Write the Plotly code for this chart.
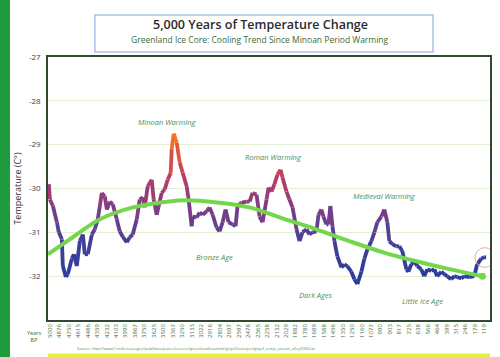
import plotly.graph_objects as go
from plotly.colors import sample_colorscale

# ---------------- data ----------------
tick_labels = ["5000", "4876", "4750", "4615", "4486", "4359", "4232", "4103", "3990", "3867",
               "3750", "3625", "3500", "3367", "3250", "3133", "3022", "2916", "2804", "2697",
               "2597", "2478", "2365", "2258", "2132", "2029", "1882", "1780", "1689", "1588",
               "1456", "1350", "1250", "1160", "1077", "990", "903", "817", "725", "638",
               "566", "464", "399", "315", "246", "179", "119"]

# position along the category axis (in tick-label units) and temperature
temp_pos = [-0.11, 0.0, 0.32, 0.74, 0.95, 1.27, 1.37, 1.69, 1.90, 2.33, 2.54, 2.85, 3.17, 3.49,
            3.70, 4.02, 4.44, 4.76, 5.07, 5.29, 5.50, 5.81, 6.03, 6.34, 6.66, 7.08, 7.40, 7.72,
            8.14, 8.46, 8.77, 9.20, 9.51, 9.83, 10.04, 10.36, 10.78, 10.99, 11.31, 11.52, 11.84,
            12.16, 12.47, 12.79, 12.90, 13.11, 13.42, 13.74, 14.06, 14.48, 14.69, 15.01, 15.12,
            15.54, 15.86, 16.17, 16.60, 16.91, 17.23, 17.65, 17.97, 18.29, 18.60, 18.92, 19.34,
            19.66, 19.87, 20.30, 20.82, 21.14, 21.46, 21.88, 22.20, 22.52, 22.94, 23.15, 23.47,
            23.78, 24.10, 24.42, 24.63, 25.05, 25.37, 25.69, 26.11, 26.43, 26.74, 27.17, 27.48,
            27.80, 28.22, 28.44, 28.75, 28.96, 29.28, 29.49, 29.70, 29.92, 30.13, 30.44, 30.87,
            31.18, 31.50, 31.92, 32.24, 32.56, 32.98, 33.30, 33.62, 34.04, 34.36, 34.67, 35.10,
            35.41, 35.73, 35.94, 36.26, 36.68, 37.00, 37.32, 37.74, 37.95, 38.27, 38.58, 38.90,
            39.32, 39.64, 39.96, 40.38, 40.70, 41.01, 41.44, 41.75, 42.07, 42.49, 42.81, 43.13,
            43.55, 43.87, 44.40, 44.93, 45.24, 45.67, 45.98, 46.19]
temperature = [-29.9, -30.25, -30.4, -30.77, -31.0, -31.16, -31.77, -32.02, -31.95, -31.6, -31.5,
               -31.77, -31.2, -31.05, -31.5, -31.5, -31.05, -30.93, -30.7, -30.4, -30.1, -30.18,
               -30.48, -30.3, -30.36, -30.7, -30.98, -31.1, -31.23, -31.11, -31.05, -30.7, -30.25,
               -30.2, -30.43, -29.95, -29.8, -30.25, -30.6, -30.4, -30.1, -30.02, -29.8, -29.65,
               -29.1, -28.75, -28.95, -29.4, -29.64, -29.95, -30.25, -30.86, -30.64, -30.66,
               -30.55, -30.6, -30.52, -30.43, -30.6, -30.89, -30.98, -30.77, -30.48, -30.77,
               -30.82, -30.86, -30.4, -30.32, -30.3, -30.3, -30.1, -30.14, -30.64, -30.77, -30.25,
               -29.98, -30.07, -29.9, -29.68, -29.57, -29.75, -30.07, -30.25, -30.43, -30.93,
               -31.2, -31.0, -30.93, -31.05, -31.0, -30.98, -30.6, -30.48, -30.64, -30.82, -30.82,
               -30.4, -30.86, -31.2, -31.55, -31.8, -31.73, -31.77, -31.9, -32.07, -32.18, -31.9,
               -31.6, -31.39, -31.2, -31.0, -30.77, -30.64, -30.48, -30.77, -31.2, -31.27, -31.32,
               -31.32, -31.43, -31.84, -31.9, -31.73, -31.66, -31.77, -31.84, -32.0, -31.84,
               -31.88, -31.84, -32.0, -31.9, -31.95, -32.0, -32.07, -32.0, -32.02, -32.05, -32.0,
               -32.02, -32.0, -31.73, -31.6, -31.57, -31.57]

trend_pos = [-0.2, 2.1, 5.3, 8.8, 12.4, 14.5, 17.7, 21.1, 24.6, 28.2, 31.7, 35.2, 38.8, 42.3, 45.8]
trend_temp = [-31.5, -31.16, -30.7, -30.43, -30.3, -30.27, -30.32, -30.43, -30.68, -30.93,
              -31.2, -31.45, -31.66, -31.84, -32.0]

period_labels = ["Minoan Warming", "Roman Warming", "Medieval Warming",
                 "Bronze Age", "Dark Ages", "Little Ice Age"]
period_pos = [12.4, 23.7, 35.4, 17.4, 28.2, 39.4]
period_temp = [-28.48, -29.27, -30.16, -31.57, -32.43, -32.57]

y_ticks = [-27, -28, -29, -30, -31, -32]

# ---------------- figure ----------------
FONT = "Open Sans"
scale = [[0.0, "#2a3e9c"], [0.22, "#3f3f98"], [0.375, "#66408e"], [0.53, "#8c3b80"],
         [0.69, "#b83d66"], [0.875, "#e25440"], [1.0, "#f57a20"]]
vmin, vmax = -32.0, -28.8

fig = go.Figure()

for i in range(len(temperature) - 1):
    v = (temperature[i] + temperature[i + 1]) / 2
    t = min(max((v - vmin) / (vmax - vmin), 0), 1)
    col = sample_colorscale(scale, [t])[0]
    fig.add_trace(go.Scatter(x=[temp_pos[i], temp_pos[i + 1]],
                             y=[temperature[i], temperature[i + 1]],
                             mode="lines", line=dict(color=col, width=3.8),
                             showlegend=False, hoverinfo="skip"))

fig.add_trace(go.Scatter(x=trend_pos, y=trend_temp, mode="lines",
                         line=dict(color="#74d64c", width=4, shape="spline"),
                         showlegend=False, hoverinfo="skip"))
fig.add_trace(go.Scatter(x=[trend_pos[-1]], y=[trend_temp[-1]], mode="markers",
                         marker=dict(color="#74d64c", size=7), showlegend=False,
                         hoverinfo="skip"))

for txt, px, py in zip(period_labels, period_pos, period_temp):
    fig.add_annotation(x=px, y=py, text="<i>" + txt + "</i>", showarrow=False,
                       yanchor="middle",
                       font=dict(family=FONT, size=7.5, color="#4f8f4f"))

# circle around latest warming
fig.add_shape(type="circle", xref="x", yref="y", x0=45.0, x1=47.1, y0=-31.8, y1=-31.35,
              line=dict(color="#e8b0a0", width=1))

# left green bar and bottom yellow bar
fig.add_shape(type="rect", xref="paper", yref="paper", x0=-0.11, x1=-0.086, y0=-0.2, y1=1.3,
              fillcolor="#1f9a3c", line_width=0, layer="below")
fig.add_shape(type="rect", xref="paper", yref="paper", x0=0.0, x1=1.0, y0=-0.127, y1=-0.2,
              fillcolor="#e6ef3a", line_width=0, layer="below")

# title box
fig.add_shape(type="rect", xref="paper", yref="paper", x0=0.106, x1=0.871, y0=1.019, y1=1.16,
              fillcolor="white", line=dict(color="#a9c4e6", width=1.5))
fig.add_annotation(xref="paper", yref="paper", x=0.48, y=1.122, yanchor="middle",
                   text="5,000 Years of Temperature Change",
                   showarrow=False, font=dict(family=FONT, size=12.5, color="#2a2a2a", weight=600))
fig.add_annotation(xref="paper", yref="paper", x=0.48, y=1.065, yanchor="middle",
                   text="Greenland Ice Core: Cooling Trend Since Minoan Period Warming",
                   showarrow=False, font=dict(family=FONT, size=8.5, color="#3d6b3d"))

# years BP label and source
fig.add_annotation(xref="paper", yref="paper", x=-0.012, y=-0.061, yanchor="middle",
                   text="Years<br>BP", showarrow=False, xanchor="right",
                   font=dict(family=FONT, size=5.5, color="#3d6b3d"))
fig.add_annotation(xref="paper", yref="paper", x=0.06, y=-0.11, yanchor="middle",
                   text="Source: http://www1.ncdc.noaa.gov/pub/data/paleo/icecore/greenland/summit/gisp2/isotopes/gisp2_temp_accum_alley2000.txt",
                   showarrow=False, xanchor="left",
                   font=dict(family=FONT, size=4, color="#4f8f4f"))

fig.update_layout(
    width=500, height=357,
    margin=dict(l=48, r=10, t=57, b=37),
    paper_bgcolor="white", plot_bgcolor="white",
    font=dict(family=FONT),
    hovermode=False,
    xaxis=dict(range=[-0.2, 46.6], tickmode="array", tickvals=list(range(len(tick_labels))),
               ticktext=tick_labels, tickangle=-90, tickfont=dict(size=6, color="#3d6b3d"),
               showgrid=False, zeroline=False, showline=True, linecolor="#2f4a2f",
               linewidth=1.5, mirror=True, ticks="", automargin=False),
    yaxis=dict(range=[-33, -27], tickmode="array", tickvals=y_ticks,
               ticktext=[str(v) for v in y_ticks], tickfont=dict(size=8, color="#444444"),
               showgrid=True, gridcolor="#e2efd2", gridwidth=1, zeroline=False,
               showline=True, linecolor="#2f4a2f", linewidth=1.5, mirror=True, automargin=False,
               ticklabelstandoff=4,
               title=dict(text="Temperature (C°)", font=dict(size=9, color="#333333"), standoff=6)),
)

fig.write_html("out.html", config={"displayModeBar": False},
               post_script="document.body.style.margin='0';")
